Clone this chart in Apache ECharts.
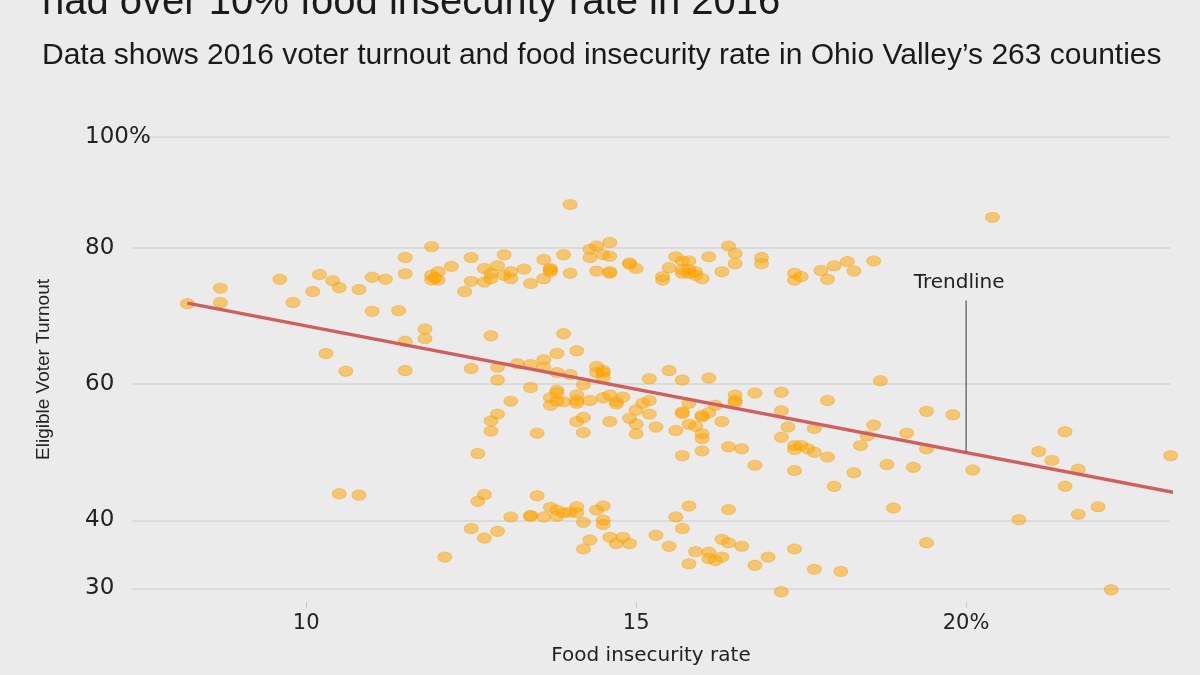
<!DOCTYPE html>
<html>
<head>
<meta charset="utf-8">
<title>Food insecurity and voter turnout</title>
<script src="https://cdn.jsdelivr.net/npm/echarts@6/dist/echarts.min.js"></script>
<style>
    html, body { margin: 0; padding: 0; background: #ebebeb; }
    #chart { width: 1200px; height: 675px; }
</style>
</head>
<body>
<div id="chart"></div>
<script>
// counties in the ~75-80% turnout band
var upperRate = [
    8.2, 8.7, 8.7, 9.6, 9.8, 10.1, 10.2, 10.4, 10.5, 10.8,
    11.0, 11.2, 11.5, 11.5, 11.0, 11.4, 11.8, 11.8, 11.5, 11.9,
    11.9, 12.0, 12.0, 11.9, 12.2, 12.5, 12.5, 12.4, 12.7, 12.7,
    12.8, 12.8, 12.9, 13.0, 13.0, 13.1, 13.1, 13.3, 13.4, 13.6,
    13.6, 13.7, 13.7, 13.7, 13.9, 14.0, 14.3, 14.4, 14.3, 14.5,
    14.6, 14.6, 14.4, 14.6, 14.6, 14.9, 14.9, 15.0, 15.4, 15.4,
    15.5, 15.6, 15.7, 15.8, 15.7, 15.8, 15.8, 15.9, 15.9, 16.0,
    16.1, 16.3, 16.4, 16.5, 16.5, 16.9, 16.9, 17.4, 17.4, 17.5,
    17.8, 17.9, 18.0, 18.2, 18.3, 18.6, 20.4, 14.0, 11.95, 15.7
];
var upperTurnout = [
    71.8, 74.1, 72.0, 75.4, 72.0, 73.6, 76.1, 75.2, 74.2, 73.9,
    75.7, 75.4, 78.6, 76.2, 70.7, 70.8, 68.1, 66.7, 66.3, 80.2,
    76.0, 76.5, 75.3, 75.3, 77.3, 78.6, 75.1, 73.6, 77.0, 75.0,
    76.3, 75.5, 77.4, 79.0, 76.0, 76.5, 75.5, 76.9, 74.8, 78.3,
    75.5, 77.0, 76.5, 76.8, 79.0, 76.3, 79.8, 80.3, 78.6, 79.0,
    78.8, 80.8, 76.6, 76.5, 76.3, 77.8, 77.6, 77.0, 75.8, 75.3,
    77.1, 78.7, 78.1, 78.1, 76.3, 76.8, 76.3, 76.5, 76.0, 75.5,
    78.7, 76.5, 80.3, 79.2, 77.7, 78.6, 77.7, 76.3, 75.3, 75.8,
    76.7, 75.4, 77.4, 78.0, 76.6, 78.1, 84.5, 86.4, 75.6, 76.8
];

// counties around 45-67%
var middleRate = [
    10.3, 10.6, 11.5, 12.8, 13.9, 12.5, 12.9, 12.9, 13.2, 13.4,
    13.6, 13.8, 14.1, 13.6, 13.8, 14.0, 14.4, 14.5, 14.4, 14.5,
    14.5, 13.4, 14.2, 13.8, 13.8, 13.1, 12.9, 12.8, 12.8, 12.6,
    13.5, 13.7, 13.7, 13.8, 13.9, 14.1, 14.1, 14.1, 14.3, 14.1,
    14.2, 14.2, 14.5, 14.6, 14.7, 14.7, 14.8, 14.6, 14.9, 15.0,
    15.0, 15.0, 15.1, 15.2, 15.2, 15.3, 15.2, 15.5, 15.7, 16.1,
    15.6, 15.7, 15.7, 15.8, 15.8, 15.9, 16.0, 16.0, 16.1, 16.0,
    16.0, 15.7, 16.0, 16.2, 16.3, 16.4, 16.6, 16.8, 16.5, 16.5,
    16.5, 16.8, 17.2, 17.2, 17.3, 17.2, 17.4, 17.4, 17.4, 17.5,
    17.6, 17.7, 17.9, 17.7, 17.9, 18.7, 18.6, 18.5, 18.4, 18.3,
    18.0, 18.8, 19.1, 19.2, 19.4, 19.8, 19.4, 20.1, 21.1, 21.3,
    21.5, 21.7, 21.5, 23.1
];
var middleTurnout = [
    64.5, 61.9, 62.0, 67.1, 67.4, 62.3, 62.5, 60.6, 63.0, 62.9,
    63.6, 64.5, 64.9, 62.5, 61.7, 61.4, 62.6, 62.0, 61.7, 61.7,
    61.0, 59.5, 59.9, 59.1, 58.7, 57.5, 55.6, 54.6, 53.1, 49.8,
    52.8, 58.0, 56.9, 57.5, 57.4, 58.4, 57.6, 57.2, 57.6, 54.5,
    55.1, 52.9, 58.0, 58.4, 57.4, 57.1, 58.1, 54.5, 55.0, 56.2,
    54.1, 52.7, 57.2, 57.6, 55.6, 53.7, 60.8, 62.0, 60.6, 60.9,
    53.2, 55.9, 55.7, 57.2, 54.1, 53.8, 55.4, 55.2, 55.8, 52.7,
    52.0, 49.5, 50.2, 56.9, 54.5, 50.8, 50.5, 48.1, 58.4, 57.6,
    57.3, 58.7, 58.8, 56.1, 53.7, 52.2, 50.4, 51.0, 47.3, 51.0,
    50.5, 50.0, 49.3, 53.5, 57.6, 60.5, 54.0, 52.4, 51.0, 47.0,
    45.0, 48.2, 52.8, 47.8, 56.0, 55.5, 50.5, 47.4, 50.1, 48.8,
    53.0, 47.5, 45.0, 49.5
];

// counties below ~44%
var lowerRate = [
    10.5, 10.8, 12.7, 12.6, 13.5, 12.5, 12.7, 12.9, 13.1, 13.4,
    13.4, 13.6, 13.7, 13.8, 13.8, 13.9, 14.0, 14.1, 14.1, 14.2,
    14.4, 14.5, 14.5, 14.5, 14.3, 14.2, 14.6, 14.7, 14.8, 14.9,
    12.1, 15.3, 15.5, 15.6, 15.8, 15.7, 15.8, 15.9, 16.1, 16.1,
    16.2, 16.3, 16.3, 16.4, 16.6, 16.4, 16.8, 17.0, 17.2, 17.4,
    18.9, 17.7, 18.1, 19.4, 20.8, 21.7, 22.0, 22.2
];
var lowerTurnout = [
    43.9, 43.7, 43.8, 42.8, 43.6, 38.8, 37.4, 38.4, 40.5, 40.7,
    40.6, 40.5, 41.9, 41.5, 40.6, 41.1, 41.2, 42.0, 41.1, 39.7,
    41.5, 42.1, 40.0, 39.4, 37.1, 35.8, 37.5, 36.6, 37.5, 36.6,
    34.6, 37.8, 36.2, 40.5, 42.1, 38.8, 33.6, 35.4, 35.3, 34.4,
    34.1, 34.6, 37.2, 36.7, 36.2, 41.6, 33.4, 34.6, 29.5, 35.8,
    41.8, 32.8, 32.5, 36.7, 40.1, 40.9, 42.0, 29.8
];

// trendline ends and the callout
var trendRate = [8.2, 23.15];
var trendTurnout = [71.9, 44.1];
var calloutRate = [20.0, 20.0];
var calloutTurnout = [50.0, 72.3];

var xTicks = [10, 15, 20];
var yTicks = [30, 40, 60, 80, 96.3];   // top line is labelled 100%

function zipPoints(xs, ys) {
    var res = [];
    for (var i = 0; i < xs.length; i++) {
        res.push([xs[i], ys[i]]);
    }
    return res;
}

function drawChart(id) {
    var $e = echarts.init(document.getElementById(id));
    var points = zipPoints(upperRate, upperTurnout)
        .concat(zipPoints(middleRate, middleTurnout))
        .concat(zipPoints(lowerRate, lowerTurnout));
    var callout = zipPoints(calloutRate, calloutTurnout);
    callout[1] = {
        value: callout[1],
        label: {
            show: true,
            position: 'top',
            distance: 7,
            offset: [-7, 0],
            formatter: 'Trendline',
            fontFamily: 'DejaVu Sans',
            fontSize: 20,
            color: '#222'
        }
    };

    var option = {
        backgroundColor: '#ebebeb',
        animation: false,
        title: [{
            text: 'had over 10% food insecurity rate in 2016',
            left: 42,
            top: -17,
            padding: 0,
            textStyle: {
                fontFamily: 'Liberation Sans',
                fontWeight: 'normal',
                fontSize: 40,
                color: '#1a1a1a'
            }
        }, {
            text: 'Data shows 2016 voter turnout and food insecurity rate in Ohio Valley’s 263 counties',
            left: 42,
            top: 41,
            padding: 0,
            textStyle: {
                fontFamily: 'Liberation Sans',
                fontWeight: 'normal',
                fontSize: 30,
                color: '#1a1a1a'
            }
        }],
        grid: {
            left: 132,
            right: 30,
            top: 137,
            bottom: 73
        },
        xAxis: {
            type: 'value',
            min: 7.36,
            max: 23.09,
            name: 'Food insecurity rate',
            nameLocation: 'middle',
            nameGap: 44,
            nameTextStyle: {
                fontFamily: 'DejaVu Sans',
                fontSize: 20,
                color: '#222'
            },
            axisLine: { show: false },
            axisTick: {
                show: true,
                length: 6,
                customValues: xTicks,
                lineStyle: { color: '#c8c8c8' }
            },
            axisLabel: {
                customValues: xTicks,
                margin: 11,
                fontFamily: 'DejaVu Sans',
                fontSize: 21,
                color: '#222',
                formatter: function (v) {
                    return v === 20 ? '20%' : String(v);
                }
            },
            splitLine: { show: false }
        },
        yAxis: {
            type: 'value',
            min: 28,
            max: 96.3,
            name: 'Eligible Voter Turnout',
            nameLocation: 'middle',
            nameGap: 79,
            nameTextStyle: {
                fontFamily: 'Liberation Sans',
                fontSize: 19,
                color: '#222'
            },
            axisLine: { show: false },
            axisTick: { show: false, customValues: yTicks },
            axisLabel: {
                customValues: yTicks,
                align: 'left',
                margin: 47,
                padding: [0, 0, 7, 0],
                fontFamily: 'DejaVu Sans',
                fontSize: 23,
                color: '#222',
                formatter: function (v) {
                    return v > 90 ? '100%' : String(v);
                }
            },
            splitLine: {
                show: true,
                lineStyle: { color: '#d6d6d6', width: 1.5 }
            }
        },
        series: [{
            name: 'Counties',
            type: 'scatter',
            clip: false,
            symbol: 'circle',
            symbolSize: [14, 10.5],
            itemStyle: {
                color: 'rgba(255,165,0,0.66)',
                borderColor: 'rgba(240,150,0,0.45)',
                borderWidth: 1
            },
            data: points,
            z: 2
        }, {
            name: 'Trendline',
            type: 'line',
            clip: false,
            symbol: 'none',
            lineStyle: { color: '#cf5e5e', width: 3.5 },
            data: zipPoints(trendRate, trendTurnout),
            z: 3
        }, {
            name: 'Callout',
            type: 'line',
            clip: false,
            symbol: 'circle',
            symbolSize: 1,
            showSymbol: true,
            itemStyle: { color: 'rgba(0,0,0,0)' },
            lineStyle: { color: '#555', width: 1.2 },
            data: callout,
            z: 4
        }]
    };
    $e.setOption(option);
    window.onresize = function () {
        $e.resize();
    };
}

drawChart('chart');
</script>
</body>
</html>
